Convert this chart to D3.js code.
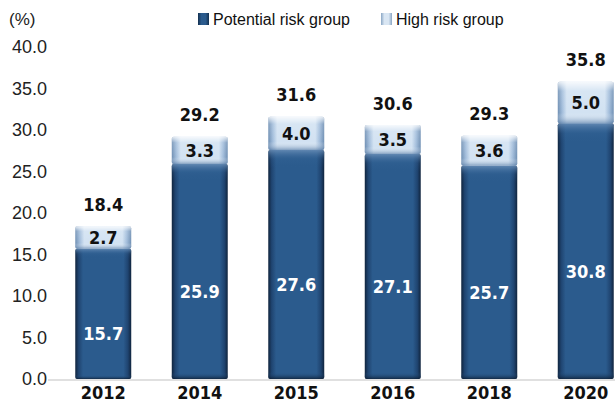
<!DOCTYPE html>
<html>
<head>
<meta charset="utf-8">
<script src="https://cdn.jsdelivr.net/npm/d3@7"></script>
<style>
  html, body { margin: 0; padding: 0; background: #fff; }
  svg { display: block; }
</style>
</head>
<body>
<svg id="chart" width="615" height="408"></svg>
<script>
// Survey years and the two stacked risk groups (%)
const years = ["2012", "2014", "2015", "2016", "2018", "2020"];
const potentialRisk = [15.7, 25.9, 27.6, 27.1, 25.7, 30.8];
const highRisk = [2.7, 3.3, 4.0, 3.5, 3.6, 5.0];
const totals = [18.4, 29.2, 31.6, 30.6, 29.3, 35.8];
const yTicks = [0, 5, 10, 15, 20, 25, 30, 35, 40];
const seriesNames = ["Potential risk group", "High risk group"];

const svg = d3.select("#chart");
const tickFont = "'Liberation Sans', Arial, sans-serif";
const boldFont = "'Liberation Sans Narrow', 'DejaVu Sans Condensed', 'Liberation Sans', sans-serif";

const x = d3.scaleBand().domain(years).range([55, 634]).paddingInner(0.42).paddingOuter(0.21);
const y = d3.scaleLinear().domain([0, 40]).range([379, 47]);

// Gradients giving the bars their bevelled look
const defs = svg.append("defs");
function hGrad(id, stops) {
  const g = defs.append("linearGradient").attr("id", id).attr("x1", 0).attr("x2", 1).attr("y1", 0).attr("y2", 0);
  stops.forEach(([o, c]) => g.append("stop").attr("offset", o).attr("stop-color", c));
}
function vGrad(id, stops) {
  const g = defs.append("linearGradient").attr("id", id).attr("x1", 0).attr("x2", 0).attr("y1", 0).attr("y2", 1);
  stops.forEach(([o, c, a]) => g.append("stop").attr("offset", o).attr("stop-color", c).attr("stop-opacity", a));
}
hGrad("darkH", [[0, "#10243d"], [0.06, "#1f4470"], [0.14, "#2b5b8d"], [0.86, "#2b5b8d"], [0.94, "#1f4470"], [1, "#10243d"]]);
hGrad("lightH", [[0, "#6f8fb3"], [0.08, "#a2bddb"], [0.16, "#d2e2f2"], [0.84, "#d2e2f2"], [0.92, "#a2bddb"], [1, "#6f8fb3"]]);
vGrad("lightV", [[0, "#ffffff", 0.8], [0.22, "#ffffff", 0.12], [0.75, "#ffffff", 0], [1, "#4f75a0", 0.6]]);
vGrad("darkV", [[0, "#6f93bb", 0.8], [0.04, "#3b6a9c", 0.2], [0.08, "#2b5b8d", 0], [0.97, "#2b5b8d", 0], [1, "#0c1d33", 0.8]]);
hGrad("legendDark", [[0, "#14304f"], [0.3, "#2b5b8d"], [0.7, "#2b5b8d"], [1, "#14304f"]]);
hGrad("legendLight", [[0, "#8aa6c4"], [0.3, "#d9e6f3"], [0.7, "#d9e6f3"], [1, "#8aa6c4"]]);

// Y axis tick labels
svg.append("g").selectAll("text").data(yTicks).join("text")
  .attr("x", 47).attr("y", d => y(d)).attr("dy", "0.36em")
  .attr("text-anchor", "end")
  .style("font-family", tickFont).style("font-size", "18px").attr("fill", "#222")
  .text(d => d.toFixed(1));

svg.append("text").attr("x", 9).attr("y", 19).attr("dy", "0.36em")
  .style("font-family", tickFont).style("font-size", "17px").attr("fill", "#222").text("(%)");

// Baseline
svg.append("line").attr("x1", 48).attr("x2", 615).attr("y1", y(0) + 1).attr("y2", y(0) + 1)
  .attr("stroke", "#d6d6d6").attr("stroke-width", 1.5);

const bw = x.bandwidth();
const groups = svg.append("g").selectAll("g").data(years).join("g");

// Potential risk segment
groups.append("rect")
  .attr("x", d => x(d)).attr("width", bw)
  .attr("y", (d, i) => y(potentialRisk[i])).attr("height", (d, i) => y(0) - y(potentialRisk[i]))
  .attr("rx", 2).attr("fill", "url(#darkH)");
groups.append("rect")
  .attr("x", d => x(d)).attr("width", bw)
  .attr("y", (d, i) => y(potentialRisk[i])).attr("height", (d, i) => y(0) - y(potentialRisk[i]))
  .attr("rx", 2).attr("fill", "url(#darkV)");

// High risk segment
groups.append("rect")
  .attr("x", d => x(d)).attr("width", bw)
  .attr("y", (d, i) => y(totals[i])).attr("height", (d, i) => y(potentialRisk[i]) - y(totals[i]))
  .attr("rx", 2).attr("fill", "url(#lightH)");
groups.append("rect")
  .attr("x", d => x(d)).attr("width", bw)
  .attr("y", (d, i) => y(totals[i])).attr("height", (d, i) => y(potentialRisk[i]) - y(totals[i]))
  .attr("rx", 2).attr("fill", "url(#lightV)");

// Segment value labels
groups.append("text")
  .attr("x", d => x(d) + bw / 2)
  .attr("y", (d, i) => (y(0) + y(potentialRisk[i])) / 2 + 20).attr("dy", "0.36em")
  .attr("text-anchor", "middle").attr("fill", "#fff")
  .style("font-family", boldFont).style("font-size", "18px").style("font-weight", "bold")
  .text((d, i) => potentialRisk[i].toFixed(1));
groups.append("text")
  .attr("x", d => x(d) + bw / 2)
  .attr("y", (d, i) => (y(potentialRisk[i]) + y(totals[i])) / 2).attr("dy", "0.36em")
  .attr("text-anchor", "middle").attr("fill", "#111")
  .style("font-family", boldFont).style("font-size", "18px").style("font-weight", "bold")
  .text((d, i) => highRisk[i].toFixed(1));
groups.append("text")
  .attr("x", d => x(d) + bw / 2)
  .attr("y", (d, i) => y(totals[i]) - 22).attr("dy", "0.36em")
  .attr("text-anchor", "middle").attr("fill", "#111")
  .style("font-family", boldFont).style("font-size", "18px").style("font-weight", "bold")
  .text((d, i) => totals[i].toFixed(1));

// Year labels
svg.append("g").selectAll("text").data(years).join("text")
  .attr("x", d => x(d) + bw / 2).attr("y", 393).attr("dy", "0.36em")
  .attr("text-anchor", "middle").attr("fill", "#111")
  .style("font-family", boldFont).style("font-size", "18px").style("font-weight", "bold")
  .text(d => d);

// Legend
const legendX = [198, 381];
const legendFill = ["url(#legendDark)", "url(#legendLight)"];
const legend = svg.append("g").selectAll("g").data(seriesNames).join("g")
  .attr("transform", (d, i) => `translate(${legendX[i]},19)`);
legend.append("rect").attr("x", 0).attr("y", -6).attr("width", 11).attr("height", 12).attr("fill", (d, i) => legendFill[i]);
legend.append("text").attr("x", 15).attr("y", 0).attr("dy", "0.36em")
  .style("font-family", tickFont).style("font-size", "16px").attr("fill", "#111")
  .text(d => d);
</script>
</body>
</html>
